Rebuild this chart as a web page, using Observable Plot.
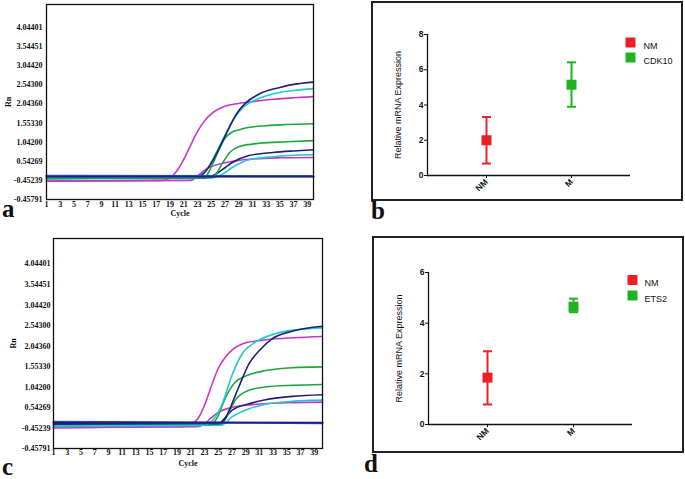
<!DOCTYPE html>
<html><head><meta charset="utf-8">
<script src="https://cdn.jsdelivr.net/npm/d3@7"></script>
<script src="https://cdn.jsdelivr.net/npm/@observablehq/plot@0.6"></script>
<style>
body{margin:0;background:#fff;width:685px;height:479px;position:relative;overflow:hidden;}
.panel{position:absolute;}
.tag{position:absolute;font-family:"Liberation Serif","Times New Roman",serif;font-weight:bold;font-size:25px;line-height:16px;color:#111;}
.box{position:absolute;border:2px solid #222;box-sizing:border-box;}
</style></head><body>
<div id="pa" class="panel" style="left:0;top:0"></div>
<div id="pc" class="panel" style="left:0;top:232px"></div>
<div id="pb" class="box" style="left:371px;top:1px;width:312px;height:200px"></div>
<div id="pd" class="box" style="left:372px;top:236px;width:312px;height:217px"></div>
<div class="tag" style="left:2px;top:201px">a</div>
<div class="tag" style="left:371px;top:203px">b</div>
<div class="tag" style="left:2px;top:459px">c</div>
<div class="tag" style="left:364px;top:456px">d</div>
<script>
// ---------- amplification plots (a, c) ----------
const cycleTicks = [1,3,5,7,9,11,13,15,17,19,21,23,25,27,29,31,33,35,37,39];
const rnTickPos = [-0.5,0,0.5,1,1.5,2,2.5,3,3.5,4];
const rnTickLabels = ["-0.45791","-0.45239","0.54269","1.04200","1.55330","2.04360","2.54300","3.04420","3.54451","4.04401"];

const NAVY = "#1c1f7e", CYAN = "#22c8cc", MAGENTA = "#c935c9", GREEN = "#1ca83a", BLUE = "#2350de";

// panel a : [cycle, Rn position]
const aNavyFlat   = [[1,0.10],[39.9,0.10]];
const aBlueFlat   = [[1,0.12],[39.9,0.11]];
const aMagentaHigh= [[1,-0.02],[18,0.0],[19,0.06],[20,0.25],[21,0.55],[22,0.92],[23,1.28],[24,1.55],[25,1.74],[26,1.86],[27,1.94],[29,2.01],[31,2.06],[34,2.12],[37,2.16],[39.9,2.19]];
const aNavyHigh   = [[1,0.10],[23,0.11],[24,0.2],[25,0.45],[26,0.78],[27,1.15],[28,1.52],[29,1.82],[30,2.02],[32,2.26],[35,2.43],[37,2.51],[39.9,2.57]];
const aCyanHigh   = [[1,0.08],[23,0.09],[24,0.2],[25,0.47],[26,0.82],[27,1.18],[28,1.52],[29,1.78],[30,1.96],[32,2.15],[35,2.30],[37,2.35],[39.9,2.40]];
const aGreenHigh  = [[1,0.05],[24,0.07],[25,0.35],[26,0.75],[27,1.1],[28,1.26],[29,1.32],[30,1.37],[33,1.43],[36,1.46],[39.9,1.48]];
const aGreenLow   = [[1,0.05],[25,0.08],[25.7,0.17],[26.7,0.47],[27.7,0.73],[29,0.88],[32,0.97],[36,1.01],[39.9,1.04]];
const aNavyLow    = [[1,0.06],[24,0.07],[25.5,0.15],[27,0.33],[28,0.46],[30.5,0.65],[34,0.73],[37,0.77],[39.9,0.80]];
const aCyanLow    = [[1,0.04],[25,0.06],[26.5,0.15],[28,0.33],[30.5,0.54],[34,0.62],[39.9,0.67]];
const aMagentaLow = [[1,-0.02],[22,0.0],[23,0.12],[24.3,0.30],[27,0.46],[31,0.56],[35,0.59],[39.9,0.60]];

// panel c
const cNavyFlat   = [[1,0.13],[40.2,0.13]];
const cBlueFlat   = [[1,0.15],[40.2,0.12]];
const cMagentaHigh= [[1,0.01],[20,0.04],[21,0.10],[22,0.22],[23,0.55],[24,1.02],[25,1.45],[26,1.72],[27,1.9],[28.5,2.05],[32,2.15],[36,2.20],[40.2,2.23]];
const cCyanHigh   = [[1,0.05],[23,0.07],[24,0.15],[25,0.38],[25.6,0.59],[26,0.78],[27,1.28],[28.5,1.81],[30.4,2.09],[33.3,2.30],[36.7,2.40],[40.2,2.44]];
const cNavyHigh   = [[1,0.10],[25,0.11],[26,0.22],[26.6,0.43],[28,1.0],[29.5,1.57],[31,1.89],[32.9,2.18],[35.8,2.36],[40.2,2.48]];
const cGreenHigh  = [[1,0.06],[24,0.08],[25,0.3],[25.9,0.68],[27.5,1.12],[29.2,1.28],[31.9,1.40],[35.8,1.47],[40.2,1.49]];
const cGreenLow   = [[1,0.06],[25.5,0.1],[26.2,0.27],[27.5,0.68],[29.5,0.92],[31.9,1.0],[35.8,1.04],[40.2,1.06]];
const cNavyLow    = [[1,0.08],[25,0.1],[26,0.25],[27,0.43],[29.5,0.59],[31.9,0.69],[35.8,0.77],[40.2,0.81]];
const cCyanLow    = [[1,0.04],[25.5,0.07],[27,0.27],[29.5,0.47],[31.9,0.58],[35.8,0.65],[40.2,0.68]];
const cMagentaLow = [[1,0.01],[22,0.03],[23,0.1],[24,0.25],[25,0.38],[27,0.50],[30,0.57],[34,0.61],[40.2,0.63]];

const aCurves = [
  [aMagentaLow, MAGENTA],[aMagentaHigh, MAGENTA],[aCyanLow, CYAN],[aNavyLow, NAVY],[aGreenLow, GREEN],
  [aGreenHigh, GREEN],[aCyanHigh, CYAN],[aNavyHigh, NAVY],[aBlueFlat, BLUE, 2.2],[aNavyFlat, NAVY, 1.8]
];
const cCurves = [
  [cMagentaLow, MAGENTA],[cMagentaHigh, MAGENTA],[cCyanLow, CYAN],[cNavyLow, NAVY],[cGreenLow, GREEN],
  [cGreenHigh, GREEN],[cCyanHigh, CYAN],[cNavyHigh, NAVY],[cBlueFlat, BLUE, 2.2],[cNavyFlat, NAVY, 1.8]
];

function ampPlot(o) {
  return Plot.plot({
    width: o.width, height: o.height,
    marginTop: o.mt, marginRight: o.mr, marginBottom: o.mb, marginLeft: o.ml,
    style: {fontFamily: "'Liberation Serif', 'Times New Roman', serif", fontWeight: "bold", fontSize: "8px", color: "#111", background: "transparent"},
    x: {domain: [1, o.xMax]},
    y: {domain: [-0.5, o.yMax]},
    marks: [
      ...o.curves.map(([pts, color, w]) => Plot.line(pts, {x: d => d[0], y: d => d[1], stroke: color, strokeWidth: w || 1.6, curve: "monotone-x"})),
      Plot.frame({stroke: "#111", strokeWidth: 1.3}),
      Plot.axisY({ticks: rnTickPos, tickFormat: d => rnTickLabels[rnTickPos.indexOf(d)], tickSize: 0, tickPadding: o.yPad,
        label: "Rn", labelAnchor: "center", labelOffset: o.yLabOff, labelArrow: "none", fontSize: 8}),
      Plot.axisX({ticks: cycleTicks, tickSize: 0, tickPadding: o.xPad, tickFormat: d => String(d),
        label: "Cycle", labelAnchor: "center", labelOffset: o.xLabOff, labelArrow: "none"})
    ]
  });
}

document.getElementById("pa").append(ampPlot({
  curves: aCurves, width: 330, height: 225, mt: 4, mr: 17, mb: 26, ml: 46,
  xMax: 39.9, yMax: 4.6, yPad: 4, xPad: 2, yLabOff: 41, xLabOff: 16
}));
document.getElementById("pc").append(ampPlot({
  curves: cCurves, width: 330, height: 246, mt: 6, mr: 8, mb: 30, ml: 53,
  xMax: 40.2, yMax: 4.62, yPad: 3, xPad: 1, yLabOff: 43, xLabOff: 17
}));

// ---------- relative expression plots (b, d) ----------
const categories = ["NM", "M"];
const groupColors = ["#ec2024", "#1fb41f"];
const bMeans = [2.0, 5.15], bLow = [0.68, 3.9], bHigh = [3.32, 6.42];
const dMeans = [1.85, 4.65], dLow = [0.79, 4.43], dHigh = [2.89, 4.97];
const bTicks = [0, 2, 4, 6, 8];
const dTicks = [0, 2, 4, 6];
const bLegend = ["NM", "CDK10"];
const dLegend = ["NM", "ETS2"];
const yTitle = "Relative mRNA Expression";

const capSymbol = {draw(ctx, size) { const w = Math.sqrt(size) / 2; ctx.moveTo(-w, 0); ctx.lineTo(w, 0); }};

function exprPlot(o) {
  const rows = categories.map((c, i) => ({cat: c, mean: o.means[i], low: o.low[i], high: o.high[i], color: groupColors[i]}));
  const legendMarks = o.legend.flatMap((t, i) => [
    Plot.dot([t], {frameAnchor: "top-right", dx: 0, dy: o.legDy[i], symbol: "square", r: 5.64, fill: groupColors[i]}),
    Plot.text([t], {frameAnchor: "top-right", dx: o.legTx, dy: o.legDy[i], text: d => d, textAnchor: "start", fontSize: 9, fill: "#111"})
  ]);
  return Plot.plot({
    width: o.width, height: o.height,
    marginTop: o.mt, marginRight: o.mr, marginBottom: o.mb, marginLeft: o.ml,
    style: {fontFamily: "'Liberation Sans', Arial, sans-serif", fontSize: "8px", color: "#111", background: "transparent"},
    x: {type: "point", domain: categories, padding: 0.686},
    y: {domain: [0, o.yMax]},
    marks: [
      Plot.ruleX(rows, {x: "cat", y1: "low", y2: "high", stroke: "color", strokeWidth: 2}),
      Plot.dot(rows, {x: "cat", y: "low", symbol: capSymbol, r: 5.1, stroke: "color", strokeWidth: 2, fill: "none"}),
      Plot.dot(rows, {x: "cat", y: "high", symbol: capSymbol, r: 5.1, stroke: "color", strokeWidth: 2, fill: "none"}),
      Plot.dot(rows, {x: "cat", y: "mean", symbol: "square", r: 5.64, fill: "color"}),
      Plot.ruleY([0], {stroke: "#111", strokeWidth: 1.3}),
      Plot.frame({anchor: "left", stroke: "#111", strokeWidth: 1.3}),
      Plot.axisY({ticks: o.ticks, tickFormat: d => String(d), tickSize: 3, tickPadding: 1, fontWeight: "bold", fontSize: 8.5, label: null}),
      Plot.text([yTitle], {frameAnchor: "left", dx: o.yTitleDx, rotate: -90, textAnchor: "middle", lineAnchor: "middle", text: d => d, fontSize: 9, fill: "#111"}),
      Plot.axisX({tickSize: 3, tickPadding: 2, tickRotate: -45, fontWeight: "bold", fontSize: 8.5, label: null}),
      ...legendMarks
    ]
  });
}

document.getElementById("pb").append(exprPlot({
  means: bMeans, low: bLow, high: bHigh, ticks: bTicks, yMax: 8, legend: bLegend,
  width: 308, height: 196, mt: 31, mr: 51, mb: 24, ml: 54, yTitleDx: -29, legDy: [8, 23], legTx: 13
}));
document.getElementById("pd").append(exprPlot({
  means: dMeans, low: dLow, high: dHigh, ticks: dTicks, yMax: 6, legend: dLegend,
  width: 308, height: 213, mt: 34, mr: 50, mb: 27, ml: 54, yTitleDx: -29, legDy: [7.5, 23], legTx: 12
}));
</script>
</body></html>
